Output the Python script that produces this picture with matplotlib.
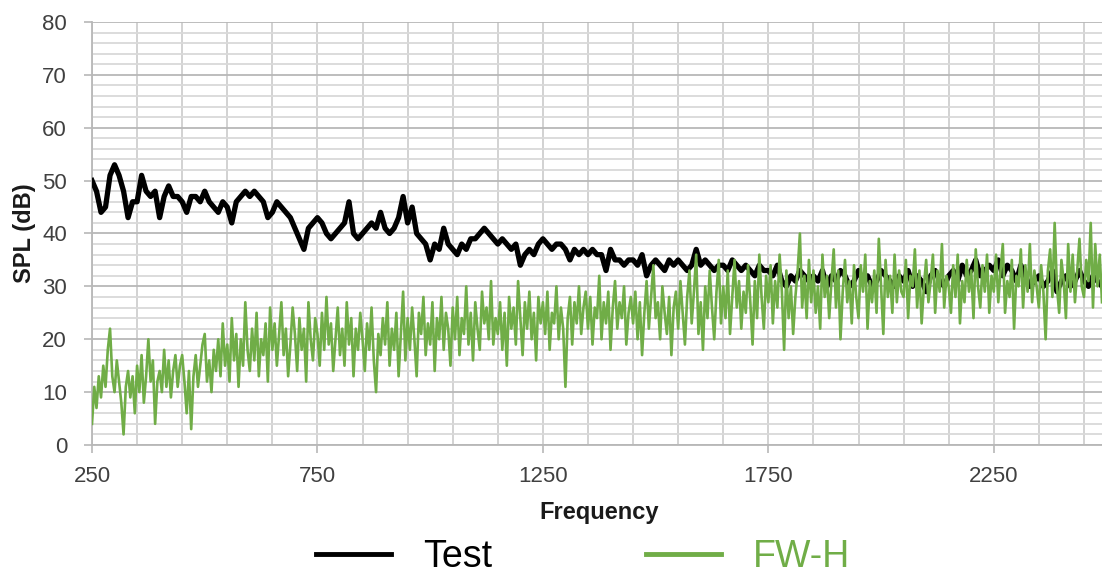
import numpy as np
import matplotlib
matplotlib.use("Agg")
import matplotlib.pyplot as plt
from matplotlib.ticker import FixedLocator, MultipleLocator

# ---------------- data ----------------
# Test: 10 Hz steps from 250 Hz
test_start = 250
test_step = 10
test_spl = [
    50, 48, 44, 45, 51, 53, 51, 48, 43, 46,
    46, 51, 48, 47, 48, 43, 47, 49, 47, 47,
    46, 44, 47, 47, 46, 48, 46, 45, 44, 46,
    45, 42, 46, 47, 48, 47, 48, 47, 46, 43,
    44, 46, 45, 44, 43, 41, 39, 37, 41, 42,
    43, 42, 40, 39, 40, 41, 42, 46, 40, 39,
    40, 41, 42, 41, 44, 41, 40, 41, 43, 47,
    42, 45, 40, 39, 38, 35, 38, 37, 41, 38,
    37, 36, 38, 37, 39, 39, 40, 41, 40, 39,
    38, 39, 38, 37, 38, 34, 36, 37, 36, 38,
    39, 38, 37, 38, 38, 37, 35, 37, 36, 37,
    36, 37, 36, 36, 33, 37, 35, 35, 34, 35,
    35, 34, 36, 32, 34, 35, 34, 33, 35, 34,
    35, 34, 33, 34, 37, 34, 35, 34, 33, 34,
    34, 33, 35, 34, 33, 34, 33, 32, 34, 33,
    33, 32, 34, 31, 30, 32, 31, 33, 32, 31,
    32, 31, 33, 30, 32, 31, 33, 32, 30, 31,
    33, 31, 32, 30, 31, 33, 32, 31, 30, 32,
    31, 33, 30, 32, 31, 29, 32, 33, 31, 30,
    32, 33, 31, 34, 32, 33, 35, 32, 33, 34,
    33, 35, 32, 34, 33, 31, 34, 32, 30, 31,
    32, 30, 31, 33, 29, 31, 32, 30, 31, 33,
    31, 30, 32, 31, 30,
]

# FW-H: 5 Hz steps from 250 Hz
fwh_start = 250
fwh_step = 5
fwh_spl = [
    4, 11, 7, 13, 9, 15, 11, 18, 22, 13, 10, 16, 12, 8, 2, 11, 14, 9, 13, 6,
    15, 10, 17, 8, 13, 20, 12, 16, 4, 12, 14, 10, 18, 11, 16, 9, 14, 17, 11, 15,
    17, 12, 6, 14, 3, 13, 17, 11, 15, 19, 21, 12, 16, 10, 18, 14, 20, 13, 23, 15,
    19, 12, 24, 16, 21, 11, 20, 15, 27, 18, 14, 22, 16, 25, 13, 20, 17, 23, 12, 26,
    18, 23, 15, 21, 27, 17, 22, 13, 19, 26, 21, 14, 24, 18, 22, 12, 27, 20, 16, 24,
    21, 15, 25, 18, 28, 19, 23, 14, 20, 26, 17, 22, 15, 27, 19, 24, 13, 22, 18, 25,
    20, 14, 23, 18, 26, 16, 10, 21, 17, 24, 19, 27, 15, 22, 18, 25, 13, 21, 29, 16,
    24, 18, 26, 20, 13, 25, 21, 28, 17, 23, 19, 27, 14, 24, 20, 28, 18, 25, 22, 15,
    26, 20, 28, 17, 24, 21, 30, 19, 25, 16, 27, 22, 18, 29, 23, 26, 20, 31, 19, 24,
    21, 27, 18, 25, 15, 28, 22, 26, 19, 31, 24, 17, 27, 22, 29, 20, 25, 16, 28, 23,
    27, 21, 29, 18, 25, 23, 30, 20, 26, 22, 11, 24, 28, 19, 27, 23, 30, 21, 26, 29,
    22, 28, 19, 26, 24, 32, 20, 27, 23, 29, 18, 26, 31, 22, 27, 24, 30, 19, 25, 28,
    23, 29, 20, 27, 17, 25, 31, 22, 28, 34, 24, 27, 20, 30, 25, 21, 28, 17, 26, 29,
    22, 31, 25, 19, 28, 33, 23, 29, 36, 21, 27, 18, 30, 24, 33, 26, 20, 29, 35, 23,
    30, 24, 33, 21, 28, 35, 26, 31, 22, 29, 25, 34, 27, 19, 31, 24, 36, 28, 22, 32,
    27, 34, 23, 31, 26, 36, 29, 18, 33, 24, 30, 21, 28, 33, 40, 26, 32, 24, 35, 27,
    33, 25, 30, 22, 36, 28, 32, 24, 31, 37, 26, 33, 20, 29, 35, 27, 31, 23, 34, 28,
    24, 34, 29, 36, 22, 31, 27, 33, 25, 39, 30, 21, 35, 28, 32, 25, 36, 27, 33, 29,
    28, 35, 24, 32, 30, 37, 26, 33, 23, 30, 35, 27, 31, 36, 25, 33, 29, 38, 26, 32,
    30, 25, 34, 28, 36, 23, 31, 27, 35, 29, 33, 24, 37, 30, 26, 34, 29, 36, 25, 32,
    29, 36, 27, 33, 38, 25, 31, 28, 35, 22, 32, 30, 37, 26, 34, 29, 38, 27, 33, 30,
    26, 34, 29, 20, 33, 37, 28, 42, 30, 25, 35, 31, 24, 38, 29, 36, 27, 33, 39, 30,
    28, 35, 31, 42, 26, 38, 30, 36, 27,
]

series_names = ["Test", "FW-H"]
x_tick_values = [250, 750, 1250, 1750, 2250]
x_grid_step = 100
y_tick_step = 10
y_minor_step = 2
x_limits = (250, 2490)
y_limits = (0, 80)

freq_t = test_start + test_step * np.arange(len(test_spl))
freq_g = fwh_start + fwh_step * np.arange(len(fwh_spl))

# ---------------- styling ----------------
plt.rcParams["font.family"] = ["Liberation Sans", "DejaVu Sans"]
BLACK = "#000000"
GREEN = "#70AD47"
TICK_COLOR = "#404040"
MAJOR_GRID = "#b8b8b8"
MINOR_GRID = "#d9d9d9"

W, H = 1102, 577
fig = plt.figure(figsize=(W / 100, H / 100), dpi=100)
ax = fig.add_axes([92 / W, (H - 445) / H, (1102 - 92) / W, (445 - 22) / H])

l1, = ax.plot(freq_t, test_spl, color=BLACK, lw=3.8, solid_joinstyle="round", zorder=3)
l2, = ax.plot(freq_g, fwh_spl, color=GREEN, lw=1.9, solid_joinstyle="round", zorder=4)

ax.set_xlim(*x_limits)
ax.set_ylim(*y_limits)

ax.xaxis.set_major_locator(FixedLocator(x_tick_values))
ax.xaxis.set_minor_locator(FixedLocator(list(range(x_limits[0], x_limits[1] + 1, x_grid_step))))
ax.yaxis.set_major_locator(MultipleLocator(y_tick_step))
ax.yaxis.set_minor_locator(MultipleLocator(y_minor_step))

ax.grid(which="minor", axis="y", color=MINOR_GRID, lw=1.3, zorder=0)
ax.grid(which="major", axis="y", color=MAJOR_GRID, lw=1.3, zorder=1)
ax.grid(which="both", axis="x", color="#cfcfcf", lw=1.3, zorder=1)
ax.set_axisbelow(True)

for s in ["top", "right"]:
    ax.spines[s].set_visible(False)
for s in ["left", "bottom"]:
    ax.spines[s].set_color(MAJOR_GRID)
    ax.spines[s].set_linewidth(1.3)

ax.tick_params(which="major", axis="both", direction="out", length=6, width=1.2,
               color=MAJOR_GRID, labelcolor=TICK_COLOR, labelsize=16)
ax.tick_params(which="major", axis="x", pad=9)
ax.tick_params(which="major", axis="y", pad=12)
ax.tick_params(which="minor", axis="both", length=0)

fig.text(25 / W, 1 - 233.5 / H, "SPL (dB)", rotation=90, ha="center", va="center",
         fontsize=17, fontweight="bold", color="#1a1a1a")
fig.text(599 / W, 1 - 512 / H, "Frequency", ha="center", va="center",
         fontsize=17, fontweight="bold", color="#1a1a1a")

leg = fig.legend([l1, l2], series_names, loc="center", bbox_to_anchor=(583 / W, 1 - 557 / H),
                 ncol=2, frameon=False, fontsize=27, handlelength=2.0, handletextpad=0.85,
                 columnspacing=4.1, labelcolor="linecolor", borderaxespad=0, borderpad=0)
for ln in leg.get_lines():
    ln.set_linewidth(3.5)

fig.savefig("out.png", dpi=100)
